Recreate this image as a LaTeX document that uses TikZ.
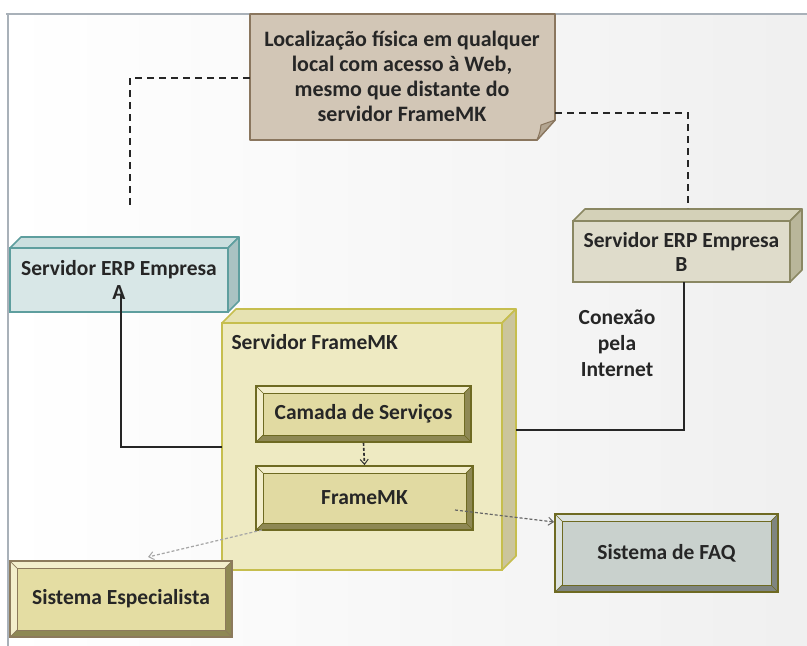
\documentclass[tikz,border=0pt]{standalone}
\usepackage{fontspec}
\setmainfont{Carlito}
\usetikzlibrary{arrows.meta,calc}
\definecolor{txt}{HTML}{262626}
\definecolor{frameline}{HTML}{A9B1B9}
\definecolor{noteF}{HTML}{D2C6B6}
\definecolor{noteB}{HTML}{8A765E}
\definecolor{noteD}{HTML}{B3A591}
\definecolor{aF}{HTML}{D8E7E7}\definecolor{aB}{HTML}{5E9E9E}\definecolor{aS}{HTML}{A9C2C2}\definecolor{aT}{HTML}{CBDFDF}
\definecolor{bF}{HTML}{DFDCCB}\definecolor{bB}{HTML}{8A8762}\definecolor{bS}{HTML}{B9B69A}\definecolor{bT}{HTML}{D4D1B8}
\definecolor{sF}{HTML}{EEEAC2}\definecolor{sB}{HTML}{C6BE4E}\definecolor{sS}{HTML}{CBC59C}\definecolor{sT}{HTML}{E6E2B2}
\definecolor{cF}{HTML}{E1DAA2}\definecolor{cB}{HTML}{6E6A22}\definecolor{cL}{HTML}{F3EECC}\definecolor{cD}{HTML}{8E8854}
\definecolor{fF}{HTML}{C9D1CD}\definecolor{fB}{HTML}{6E6A22}\definecolor{fL}{HTML}{DDE3E0}\definecolor{fD}{HTML}{7F8580}
\definecolor{eF}{HTML}{E4DDA3}\definecolor{eB}{HTML}{8C7A5C}\definecolor{eL}{HTML}{F3EECC}\definecolor{eD}{HTML}{8E8854}
\tikzset{
  boxtext/.style={text=txt,align=center,font=\bfseries\fontsize{21.5}{24}\selectfont},
  solidcon/.style={draw=black!85,line width=2pt},
  notecon/.style={draw=black!85,line width=2pt,dash pattern=on 7pt off 5pt},
  depcon/.style={draw=black!60,line width=1.2pt,dash pattern=on 3pt off 2pt,-{Straight Barb[length=5pt,width=8pt,line width=1pt]}},
  lightcon/.style={draw=black!35,line width=1.2pt,dash pattern=on 3pt off 2pt,-{Straight Barb[length=5pt,width=8pt,line width=1pt]}}
}
% name, x1, y1, x2, y2, depth, colour prefix, text
\newcommand\threedbox[8]{%
  \path[fill=#7T,draw=#7B,line width=1.6pt,line join=round] (#2,#3) -- (#2+#6,#3-#6) -- (#4+#6,#3-#6) -- (#4,#3) -- cycle;
  \path[fill=#7S,draw=#7B,line width=1.6pt,line join=round] (#4,#3) -- (#4+#6,#3-#6) -- (#4+#6,#5-#6) -- (#4,#5) -- cycle;
  \node[boxtext,draw=#7B,fill=#7F,line width=1.6pt,minimum width={(#4-#2)*1pt},minimum height={(#5-#3)*1pt},inner sep=0pt] (#1) at ({(#2+#4)/2},{(#3+#5)/2}) {#8};
}
% name, x1, y1, x2, y2, inset, colour prefix, text
\newcommand\bevelbox[8]{%
  \fill[#7F] (#2,#3) rectangle (#4,#5);
  \fill[#7L] (#2,#3) -- (#4,#3) -- (#4-#6,#3+#6) -- (#2+#6,#3+#6) -- (#2+#6,#5-#6) -- (#2,#5) -- cycle;
  \fill[#7D] (#4,#3) -- (#4,#5) -- (#2,#5) -- (#2+#6,#5-#6) -- (#4-#6,#5-#6) -- (#4-#6,#3+#6) -- cycle;
  \draw[#7B,line width=0.9pt] (#2+#6,#3+#6) rectangle (#4-#6,#5-#6);
  \draw[#7B,line width=0.7pt] (#2,#3) -- (#2+#6,#3+#6) (#4,#3) -- (#4-#6,#3+#6) (#2,#5) -- (#2+#6,#5-#6) (#4,#5) -- (#4-#6,#5-#6);
  \node[boxtext,draw=#7B,line width=1.8pt,minimum width={(#4-#2)*1pt},minimum height={(#5-#3)*1pt},inner sep=0pt] (#1) at ({(#2+#4)/2},{(#3+#5)/2}) {#8};
}
\begin{document}
\begin{tikzpicture}[x=1pt,y=-1pt]
\useasboundingbox (0,0) rectangle (807,646);
\fill[white] (0,0) rectangle (807,646);
% frame
\shade[left color=white,right color=black!6] (8,14) rectangle (807,646);
\draw[frameline,line width=2pt] (6,14) -- (807,14);
\draw[frameline,line width=1.2pt] (8,14) -- (8,646);

% note
\node[minimum width=305pt,minimum height=126pt,inner sep=0pt] (note) at (402.5,77) {};
\path[fill=noteF,draw=noteB,line width=1.8pt,line join=round] (250,14) -- (555,14) -- (555,120) -- (537,140) -- (250,140) -- cycle;
\path[fill=noteD,draw=noteB,line width=1pt,line join=round] (537,140) .. controls (540,132) .. (541,125) .. controls (548,123) .. (555,120) -- cycle;
\node[boxtext,font=\bfseries\fontsize{22}{25}\selectfont] (notetext) at (402,76) {Localização física em qualquer\\local com acesso à Web,\\mesmo que distante do\\servidor FrameMK};

% servers A and B
\threedbox{A}{10}{248}{228}{312}{11}{a}{Servidor ERP Empresa\\A}
\threedbox{B}{573}{221}{790}{282}{12}{b}{Servidor ERP Empresa\\B}

% FrameMK server
\threedbox{srv}{222}{323}{502}{570}{14}{s}{}
\node[boxtext,anchor=west] (srvtitle) at (228,342) {Servidor FrameMK};

% inner components
\bevelbox{cam}{256}{386}{471}{442}{7}{c}{Camada de Serviços}
\bevelbox{fmk}{256}{466}{473}{530}{7}{c}{FrameMK}
\bevelbox{faq}{555}{514}{778}{592}{7}{f}{Sistema de FAQ}
\bevelbox{esp}{10}{561}{232}{637}{7}{e}{Sistema Especialista}

% label
\node[boxtext,font=\bfseries\fontsize{21.5}{26}\selectfont] (conn) at (617,343) {Conexão\\pela\\Internet};

% coordinates
\coordinate (aTop) at (130,210);
\coordinate (bTop) at (688,208);
\coordinate (noteR) at (555,113);
\coordinate (srvL) at (222,447);
\coordinate (srvR) at (516,430);
\coordinate (aTip) at (121,294);
\coordinate (fmkR) at (455,510);
\coordinate (fmkL) at (262,530);
\coordinate (espTop) at (148,557);
\coordinate (bBot) at (684,282);

% connectors
\draw[notecon] (note.west |- 0,78) -| (aTop);
\draw[notecon] (noteR) -| (bTop);
\draw[solidcon] (bBot) |- (srvR);
\draw[solidcon] (srvL) -| (aTip);
\draw[depcon,draw=black!80,line width=1.6pt] (cam.south) -- (fmk.north);
\draw[depcon] (fmkR) -- (faq.west |- 0,522);
\draw[lightcon] (fmkL) -- (espTop);
\end{tikzpicture}
\end{document}
